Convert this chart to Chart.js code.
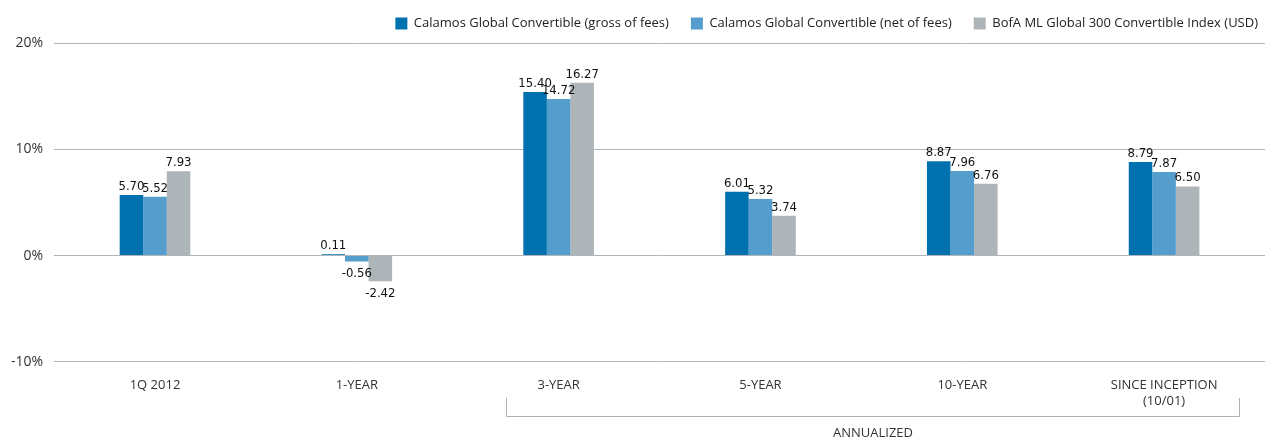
<!DOCTYPE html>
<html>
<head>
<meta charset="utf-8">
<script src="https://cdn.jsdelivr.net/npm/chart.js@4.4.1/dist/chart.umd.min.js"></script>
<style>
  html, body { margin: 0; padding: 0; background: #fff; }
  #wrap { width: 1280px; height: 440px; position: relative; }
</style>
</head>
<body>
<div id="wrap"><canvas id="c"></canvas></div>
<script>
const categories = ["1Q 2012", "1-YEAR", "3-YEAR", "5-YEAR", "10-YEAR", ["SINCE INCEPTION", "(10/01)"]];
const grossValues = [5.70, 0.11, 15.40, 6.01, 8.87, 8.79];
const netValues = [5.52, -0.56, 14.72, 5.32, 7.96, 7.87];
const indexValues = [7.93, -2.42, 16.27, 3.74, 6.76, 6.50];
const seriesNames = ["Calamos Global Convertible (gross of fees)", "Calamos Global Convertible (net of fees)", "BofA ML Global 300 Convertible Index (USD)"];
const yTicks = [-10, 0, 10, 20];
const bracketLabel = "ANNUALIZED";

const colors = ["#0071AF", "#559DCC", "#AEB5B9"];

const valueLabels = {
  id: 'valueLabels',
  afterDatasetsDraw(chart) {
    const ctx = chart.ctx;
    ctx.save();
    ctx.font = '13px "Liberation Sans Narrow", "DejaVu Sans Condensed", sans-serif';
    ctx.fillStyle = '#111';
    ctx.textAlign = 'center';
    chart.data.datasets.forEach((ds, di) => {
      const meta = chart.getDatasetMeta(di);
      meta.data.forEach((el, i) => {
        const v = ds.data[i];
        const txt = v.toFixed(2);
        if (v >= 0) {
          ctx.textBaseline = 'alphabetic';
          ctx.fillText(txt, el.x, el.y - 5);
        } else {
          ctx.textBaseline = 'top';
          ctx.fillText(txt, el.x, el.y + 6);
        }
      });
    });
    ctx.restore();
  }
};

const bracket = {
  id: 'bracket',
  afterDraw(chart) {
    const x = chart.scales.x;
    const ctx = chart.ctx;
    const w = x.getPixelForValue(1) - x.getPixelForValue(0);
    const x1 = Math.round(x.getPixelForValue(2) - 0.26 * w) + 0.5;
    const x2 = Math.round(x.getPixelForValue(5) + 0.37 * w) + 0.5;
    const yTop = 398, yBot = 416.5;
    ctx.save();
    ctx.strokeStyle = '#aab2b8';
    ctx.lineWidth = 1;
    ctx.beginPath();
    ctx.moveTo(x1, yTop); ctx.lineTo(x1, yBot); ctx.lineTo(x2, yBot); ctx.lineTo(x2, yTop);
    ctx.stroke();
    ctx.fillStyle = '#333';
    ctx.font = '13px "Open Sans"';
    ctx.textAlign = 'center';
    ctx.textBaseline = 'middle';
    ctx.fillText(bracketLabel, (x1 + x2) / 2, 433);
    ctx.restore();
  }
};

new Chart(document.getElementById('c'), {
  type: 'bar',
  data: {
    labels: categories,
    datasets: [
      { label: seriesNames[0], data: grossValues, backgroundColor: colors[0] },
      { label: seriesNames[1], data: netValues, backgroundColor: colors[1] },
      { label: seriesNames[2], data: indexValues, backgroundColor: colors[2] }
    ]
  },
  options: {
    responsive: true,
    maintainAspectRatio: false,
    animation: false,
    datasets: { bar: { categoryPercentage: 0.35, barPercentage: 1.0 } },
    layout: { padding: { top: -5, right: 0, bottom: 15, left: 0 } },
    plugins: {
      legend: {
        position: 'top',
        align: 'end',
        labels: {
          boxWidth: 12, boxHeight: 12, padding: 22,
          color: '#222',
          font: { family: '"Open Sans"', size: 13 }
        }
      },
      tooltip: { enabled: false }
    },
    scales: {
      x: {
        grid: { display: false, drawTicks: false },
        border: { display: false },
        ticks: { color: '#333', font: { family: '"Open Sans"', size: 13 }, padding: 16, maxRotation: 0, autoSkip: false }
      },
      xTopSpacer: {
        type: 'linear', position: 'top', display: true,
        grid: { display: false, drawTicks: false }, border: { display: false },
        ticks: { display: false },
        afterFit(s) { s.height = 3; }
      },
      y: {
        min: -10, max: 20,
        afterBuildTicks(axis) { axis.ticks = yTicks.map(v => ({ value: v })); },
        grid: { color: '#aeb6bc', lineWidth: 1, drawTicks: false },
        border: { display: false },
        ticks: { color: '#333', font: { family: '"Open Sans"', size: 14 }, padding: 11, callback: v => v + '%' }
      },
      yRightSpacer: {
        type: 'linear', position: 'right', display: true,
        grid: { display: false, drawTicks: false }, border: { display: false },
        ticks: { display: false },
        afterFit(s) { s.width = 15; }
      }
    }
  },
  plugins: [valueLabels, bracket]
});
</script>
</body>
</html>
